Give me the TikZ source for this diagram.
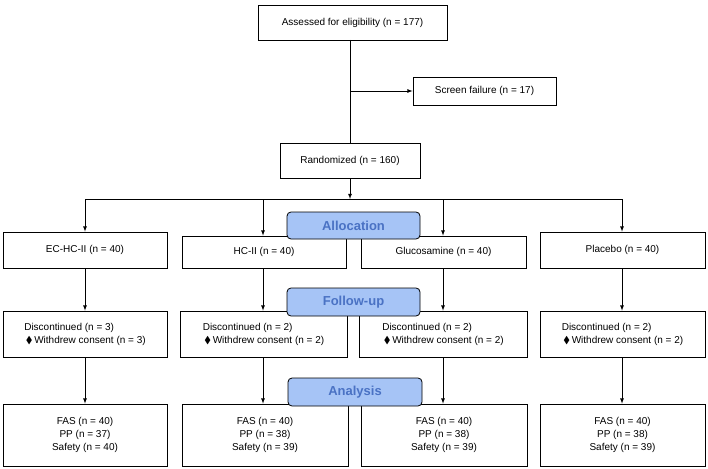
\documentclass[tikz,border=0pt]{standalone}
\usepackage{amssymb}
\usepackage{fontspec}
\setmainfont{Liberation Sans}
\definecolor{lblfill}{RGB}{166,196,246}
\definecolor{lbltext}{RGB}{74,114,196}
\begin{document}
\begin{tikzpicture}[x=1pt,y=-1pt,
  box/.style={draw,thick,inner sep=0pt,font=\fontsize{10}{13}\selectfont,align=center},
  lbl/.style={draw,thick,rounded corners=4pt,fill=lblfill,text=lbltext,font=\bfseries\fontsize{13}{15}\selectfont,inner sep=0pt},
  arr/.style={-latex,thick}]
\useasboundingbox (0,0) rectangle (708,468);
\node[box,minimum width=189,minimum height=35] (elig) at (352.5,22.5) {Assessed for eligibility (n = 177)};
\node[box,minimum width=143,minimum height=28] (sf) at (484.5,91) {Screen failure (n = 17)};
\node[box,minimum width=140,minimum height=35] (rand) at (350,160.5) {Randomized (n = 160)};
\coordinate (top) at (350,40);
\coordinate (j) at (350,91);
\draw[thick] (top) -- (rand.north);
\draw[arr] (j) -- (sf.west);
\coordinate (h) at (350,199);
\draw[arr] (rand.south) -- (h);
% row 1
\node[box,minimum width=164,minimum height=36] (a1) at (85,250) {EC-HC-II (n = 40)};
\node[box,minimum width=164,minimum height=32] (b1) at (264,252) {HC-II (n = 40)};
\node[box,minimum width=165,minimum height=32] (c1) at (443.5,252) {Glucosamine (n = 40)};
\node[box,minimum width=165,minimum height=36] (d1) at (622.5,250) {Placebo (n = 40)};
% row 2
\node[box,minimum width=164,minimum height=46,align=left] (a2) at (85,334) {Discontinued (n = 3)\\ \,$\blacklozenge$\,Withdrew consent (n = 3)};
\node[box,minimum width=167,minimum height=46,align=left] (b2) at (263.5,334) {Discontinued (n = 2)\\ \,$\blacklozenge$\,Withdrew consent (n = 2)};
\node[box,minimum width=168,minimum height=46,align=left] (c2) at (443,334) {Discontinued (n = 2)\\ \,$\blacklozenge$\,Withdrew consent (n = 2)};
\node[box,minimum width=165,minimum height=46,align=left] (d2) at (622.5,334) {Discontinued (n = 2)\\ \,$\blacklozenge$\,Withdrew consent (n = 2)};
% row 3
\node[box,minimum width=164,minimum height=62] (a3) at (85,435) {FAS (n = 40)\\PP (n = 37)\\Safety (n = 40)};
\node[box,minimum width=166,minimum height=62] (b3) at (265,435) {FAS (n = 40)\\PP (n = 38)\\Safety (n = 39)};
\node[box,minimum width=166,minimum height=62] (c3) at (444,435) {FAS (n = 40)\\PP (n = 38)\\Safety (n = 39)};
\node[box,minimum width=165,minimum height=62] (d3) at (622.5,435) {FAS (n = 40)\\PP (n = 38)\\Safety (n = 39)};
% branch line
\coordinate (hl) at (85,199);
\coordinate (hr) at (622,199);
\coordinate (hb) at (263,199);
\coordinate (hc) at (443,199);
\draw[thick] (hl) -- (hr);
\draw[arr] (hl) -- (hl |- a1.north);
\draw[arr] (hb) -- (hb |- b1.north);
\draw[arr] (hc) -- (hc |- c1.north);
\draw[arr] (hr) -- (hr |- d1.north);
\draw[arr] (hl |- a1.south) -- (hl |- a2.north);
\draw[arr] (hb |- b1.south) -- (hb |- b2.north);
\draw[arr] (hc |- c1.south) -- (hc |- c2.north);
\draw[arr] (hr |- d1.south) -- (hr |- d2.north);
\draw[arr] (hl |- a2.south) -- (hl |- a3.north);
\draw[arr] (hb |- b2.south) -- (hb |- b3.north);
\draw[arr] (hc |- c2.south) -- (hc |- c3.north);
\draw[arr] (hr |- d2.south) -- (hr |- d3.north);
% stage labels
\node[lbl,minimum width=133,minimum height=27] (alloc) at (353.5,225.5) {Allocation};
\node[lbl,minimum width=133,minimum height=28] (fu) at (353.5,302) {Follow-up};
\node[lbl,minimum width=134,minimum height=28] (an) at (355,392) {Analysis};
\end{tikzpicture}
\end{document}
